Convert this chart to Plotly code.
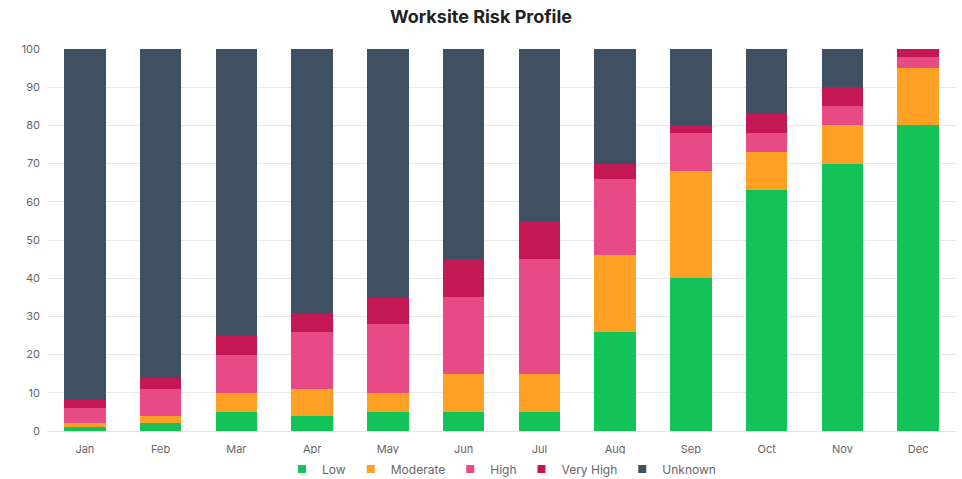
import plotly.graph_objects as go

months = ["Jan", "Feb", "Mar", "Apr", "May", "Jun", "Jul", "Aug", "Sep", "Oct", "Nov", "Dec"]
low = [1, 2, 5, 4, 5, 5, 5, 26, 40, 63, 70, 80]
moderate = [1, 2, 5, 7, 5, 10, 10, 20, 28, 10, 10, 15]
high = [4, 7, 10, 15, 18, 20, 30, 20, 10, 5, 5, 3]
very_high = [2, 3, 5, 5, 7, 10, 10, 4, 2, 5, 5, 2]
unknown = [92, 86, 75, 69, 65, 55, 45, 30, 20, 17, 10, 0]

series = [
    ("Low", low, "#13C359"),
    ("Moderate", moderate, "#FFA124"),
    ("High", high, "#E84A86"),
    ("Very High", very_high, "#C31853"),
    ("Unknown", unknown, "#405063"),
]

fig = go.Figure()
for name, vals, color in series:
    fig.add_trace(go.Bar(name=name, x=months, y=vals, showlegend=False, legendgroup=name,
                         marker=dict(color=color, line=dict(width=0))))
# legend entries with small square swatches
for name, vals, color in series:
    fig.add_trace(go.Scatter(name=name, x=[None], y=[None], mode="markers", legendgroup=name,
                             marker=dict(symbol="square", size=8, color=color)))

fig.update_layout(
    barmode="stack",
    bargap=0.45,
    width=962, height=479,
    margin=dict(l=47, r=6, t=49, b=48, autoexpand=False),
    paper_bgcolor="white", plot_bgcolor="white",
    font=dict(family="Inter, sans-serif", size=11, color="#666"),
    title=dict(text="<b>Worksite Risk Profile</b>", x=0.5, xanchor="center", y=0.965, yanchor="middle",
               font=dict(size=18, color="#222", family="Inter, sans-serif")),
    legend=dict(orientation="h", x=0.5, xanchor="center", yref="container", y=0.021, yanchor="middle",
                font=dict(size=12, color="#666"), itemwidth=30, traceorder="normal",
                tracegroupgap=0),
    xaxis=dict(showgrid=False, showline=True, linecolor="#e5e5e5", ticks="", tickfont=dict(size=11, color="#666"),
               ticklabelstandoff=8),
    yaxis=dict(range=[0, 100], dtick=10, showgrid=True, gridcolor="#e9e9e9", zeroline=False,
               tickfont=dict(size=11, color="#666"), ticks="", ticklabelstandoff=6),
)

fig.write_html("out.html")
